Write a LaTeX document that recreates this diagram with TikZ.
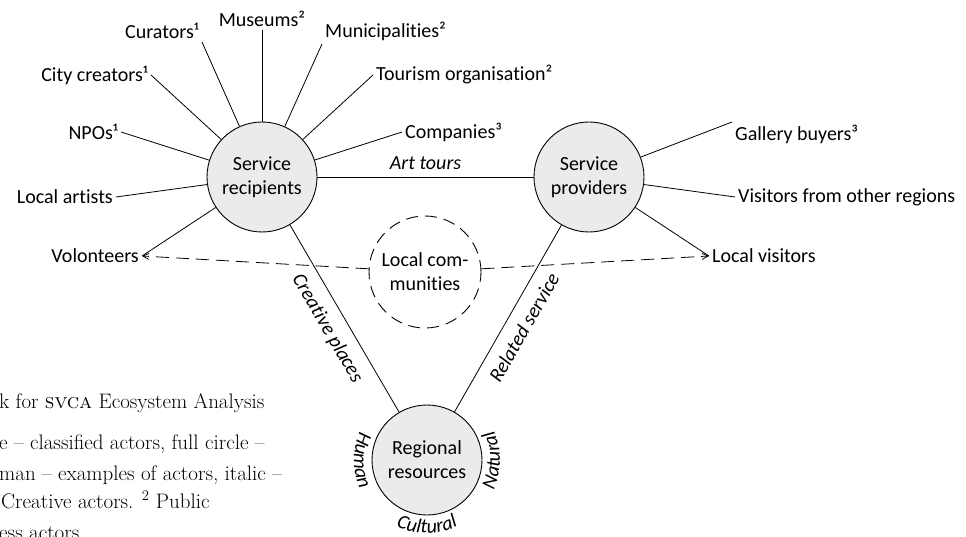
\documentclass[tikz,border=0pt]{standalone}
\usepackage{fontspec}
\newfontfamily\lblfont[Ligatures=NoCommon]{Carlito}
\usetikzlibrary{arrows.meta,decorations.text}
\definecolor{hubgray}{RGB}{235,235,235}

\newcommand{\lblsize}{\fontsize{20}{24}\selectfont}

\begin{document}
\begin{tikzpicture}[x=1pt,y=1pt,
  hub/.style={circle, draw=black, line width=0.9pt, fill=hubgray,
    minimum size=110pt, inner sep=0pt, align=center, font=\lblfont\lblsize},
  community/.style={circle, draw=black, line width=0.9pt,
    dash pattern=on 12pt off 7pt, minimum size=112pt, inner sep=0pt,
    align=center, font=\lblfont\lblsize},
  actor/.style={inner sep=3pt, font=\lblfont\lblsize},
  spoke/.style={draw=black, line width=0.8pt},
  flow/.style={draw=black, line width=0.8pt, dash pattern=on 13pt off 7pt,
    -{Straight Barb[length=6pt,width=6pt]}},
  rel/.style={font=\lblfont\itshape\lblsize},
  note/.style={anchor=base west, inner sep=0pt,
    font=\addfontfeature{FakeBold=0.5}\fontsize{21}{25}\selectfont},
  arclabel/.style={decorate, decoration={text along path,
    text={|\lblfont\itshape\lblsize|#1}, text align=center}}
]
\useasboundingbox (0,0) rectangle (966,-537);
\clip (0,0) rectangle (966,-537);

% main actor groups
\node[hub] (rec)  at (262,-177) {Service\\recipients};
\node[hub] (prov) at (589,-177) {Service\\providers};
\node[hub] (reg)  at (427,-460) {Regional\\resources};
\node[community] (lc) at (425,-272) {Local com-\\munities};

% actors around the service recipients
\node[actor, anchor=south east] (cur)  at (202,-42)  {Curators¹};
\node[actor, anchor=south]      (mus)  at (262,-30)  {Museums²};
\node[actor, anchor=south west] (mun)  at (322,-44)  {Municipalities²};
\node[actor, anchor=west]       (tour) at (373,-75)  {Tourism organisation²};
\node[actor, anchor=west]       (comp) at (402,-132) {Companies³};
\node[actor, anchor=east]       (city) at (151,-75)  {City creators¹};
\node[actor, anchor=east]       (npo)  at (121,-132) {NPOs¹};
\node[actor, anchor=east]       (art)  at (116,-197) {Local artists};
\node[actor, anchor=east]       (vol)  at (142,-256) {Volonteers};

% actors around the service providers
\node[actor, anchor=north west] (gal) at (732,-122) {Gallery buyers³};
\node[actor, anchor=west]       (vis) at (735,-197) {Visitors from other regions};
\node[actor, anchor=west]       (loc) at (709,-256) {Local visitors};

% spokes
\foreach \a/\an in {cur/south east, mus/south, mun/south west, tour/west,
                    comp/west, city/east, npo/east, art/east, vol/east}
  \draw[spoke] (rec) -- (\a.\an);
\foreach \a/\an in {gal/north west, vis/west, loc/west}
  \draw[spoke] (prov) -- (\a.\an);

% relations between the groups
\draw[spoke] (rec) -- node[rel, above, inner sep=7pt] {Art tours} (prov);
\draw[spoke] (rec) -- node[rel, sloped, below, inner sep=11pt] {Creative places} (reg);
\draw[spoke] (reg) -- node[rel, sloped, below, inner sep=11pt] {Related service} (prov);

% local communities
\draw[flow] (lc) -- (vol.east);
\draw[flow] (lc) -- (loc.west);

% kinds of regional resources
\path[arclabel=Human]    (reg.center) ++(150:73) arc[start angle=150, end angle=210, radius=73];
\path[arclabel=Cultural] (reg.center) ++(240:73) arc[start angle=240, end angle=300, radius=73];
\path[arclabel=Natural]  (reg.center) ++(-30:73) arc[start angle=-30, end angle=30, radius=73];

% caption text
\node[note] (c1) at (-1,-408) {k for \textsc{svca} Ecosystem Analysis};
\node[note] (c2) at (-1,-449) {e – classified actors, full circle –};
\node[note] (c3) at (-1,-480) {man – examples of actors, italic –};
\node[note] (c4) at (1,-508)  {Creative actors. \textsuperscript{2} Public};
\node[note] (c5) at (-1,-539) {ess actors};
\end{tikzpicture}
\end{document}
